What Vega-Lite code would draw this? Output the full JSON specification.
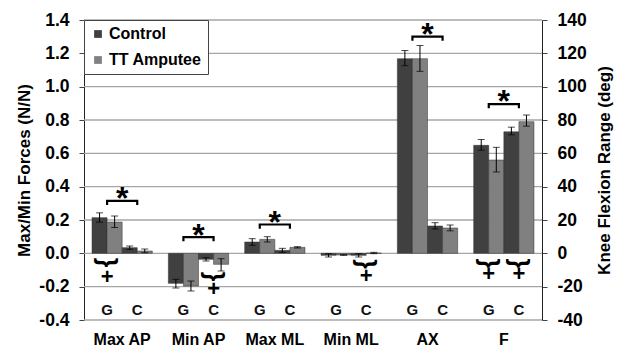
{
  "$schema": "https://vega.github.io/schema/vega-lite/v6.json",
  "width": 458,
  "height": 300,
  "autosize": {"type": "none"},
  "padding": {"left": 84, "top": 20, "right": 76, "bottom": 28},
  "config": {
    "view": {"stroke": null},
    "font": "Liberation Sans",
    "axis": {"labelFont": "Liberation Sans", "titleFont": "Liberation Sans", "labelColor": "#000", "titleColor": "#000"},
    "axisLeft": {"titleFontSize": 17, "titleFontWeight": "bold", "titlePadding": 5, "labelFontSize": 17.5, "labelFontWeight": "bold", "labelPadding": 10, "tickSize": 5, "tickColor": "#444", "domainColor": "#222", "labelOverlap": false},
    "axisRight": {"titleFontSize": 17, "titleFontWeight": "bold", "titlePadding": 10, "titleAngle": 270, "titleBaseline": "top", "labelFontSize": 17.5, "labelFontWeight": "bold", "labelPadding": 10, "tickSize": 5, "tickColor": "#444", "domainColor": "#222", "labelOverlap": false},
    "legend": {"labelFont": "Liberation Sans"},
    "text": {"font": "Liberation Sans"}
  },
  "datasets": {
    "gridlines": [
      {"g": -0.4}, {"g": -0.2}, {"g": 0.0}, {"g": 0.2}, {"g": 0.4},
      {"g": 0.6}, {"g": 0.8}, {"g": 1.0}, {"g": 1.2}, {"g": 1.4}
    ],
    "forces": [
      {"cat": "Max AP", "sub": "G", "series": "Control", "slot": "G Control", "v": 0.214, "lo": 0.187, "hi": 0.243},
      {"cat": "Max AP", "sub": "G", "series": "TT Amputee", "slot": "G TT", "v": 0.188, "lo": 0.155, "hi": 0.224},
      {"cat": "Max AP", "sub": "C", "series": "Control", "slot": "C Control", "v": 0.034, "lo": 0.024, "hi": 0.044},
      {"cat": "Max AP", "sub": "C", "series": "TT Amputee", "slot": "C TT", "v": 0.014, "lo": 0.004, "hi": 0.026},
      {"cat": "Min AP", "sub": "G", "series": "Control", "slot": "G Control", "v": -0.18, "lo": -0.208, "hi": -0.156},
      {"cat": "Min AP", "sub": "G", "series": "TT Amputee", "slot": "G TT", "v": -0.196, "lo": -0.226, "hi": -0.166},
      {"cat": "Min AP", "sub": "C", "series": "Control", "slot": "C Control", "v": -0.036, "lo": -0.046, "hi": -0.026},
      {"cat": "Min AP", "sub": "C", "series": "TT Amputee", "slot": "C TT", "v": -0.066, "lo": -0.106, "hi": -0.032},
      {"cat": "Max ML", "sub": "G", "series": "Control", "slot": "G Control", "v": 0.068, "lo": 0.048, "hi": 0.088},
      {"cat": "Max ML", "sub": "G", "series": "TT Amputee", "slot": "G TT", "v": 0.084, "lo": 0.068, "hi": 0.1},
      {"cat": "Max ML", "sub": "C", "series": "Control", "slot": "C Control", "v": 0.018, "lo": 0.006, "hi": 0.03},
      {"cat": "Max ML", "sub": "C", "series": "TT Amputee", "slot": "C TT", "v": 0.036, "lo": 0.032, "hi": 0.04},
      {"cat": "Min ML", "sub": "G", "series": "Control", "slot": "G Control", "v": -0.012, "lo": -0.022, "hi": -0.002},
      {"cat": "Min ML", "sub": "G", "series": "TT Amputee", "slot": "G TT", "v": -0.01, "lo": -0.012, "hi": -0.008},
      {"cat": "Min ML", "sub": "C", "series": "Control", "slot": "C Control", "v": -0.012, "lo": -0.022, "hi": -0.002},
      {"cat": "Min ML", "sub": "C", "series": "TT Amputee", "slot": "C TT", "v": 0.002, "lo": -0.002, "hi": 0.006},
      {"cat": "AX", "sub": "G", "series": "Control", "slot": "G Control", "v": 1.168, "lo": 1.126, "hi": 1.217},
      {"cat": "AX", "sub": "G", "series": "TT Amputee", "slot": "G TT", "v": 1.168, "lo": 1.092, "hi": 1.247},
      {"cat": "AX", "sub": "C", "series": "Control", "slot": "C Control", "v": 0.164, "lo": 0.146, "hi": 0.184},
      {"cat": "AX", "sub": "C", "series": "TT Amputee", "slot": "C TT", "v": 0.152, "lo": 0.135, "hi": 0.17}
    ],
    "flex": [
      {"cat": "F", "sub": "G", "series": "Control", "slot": "G Control", "v": 64.8, "lo": 61.9, "hi": 68.3},
      {"cat": "F", "sub": "G", "series": "TT Amputee", "slot": "G TT", "v": 56.0, "lo": 48.8, "hi": 63.6},
      {"cat": "F", "sub": "C", "series": "Control", "slot": "C Control", "v": 72.9, "lo": 71.1, "hi": 75.7},
      {"cat": "F", "sub": "C", "series": "TT Amputee", "slot": "C TT", "v": 79.0, "lo": 76.3, "hi": 83.0}
    ],
    "brackets": [
      {"b": 1, "cat": "Max AP", "sub": "G", "k": 1, "y": 0.29},
      {"b": 1, "cat": "Max AP", "sub": "G", "k": 2, "y": 0.315},
      {"b": 1, "cat": "Max AP", "sub": "C", "k": 3, "y": 0.315},
      {"b": 1, "cat": "Max AP", "sub": "C", "k": 4, "y": 0.29},
      {"b": 2, "cat": "Min AP", "sub": "G", "k": 1, "y": 0.072},
      {"b": 2, "cat": "Min AP", "sub": "G", "k": 2, "y": 0.097},
      {"b": 2, "cat": "Min AP", "sub": "C", "k": 3, "y": 0.097},
      {"b": 2, "cat": "Min AP", "sub": "C", "k": 4, "y": 0.072},
      {"b": 3, "cat": "Max ML", "sub": "G", "k": 1, "y": 0.148},
      {"b": 3, "cat": "Max ML", "sub": "G", "k": 2, "y": 0.173},
      {"b": 3, "cat": "Max ML", "sub": "C", "k": 3, "y": 0.173},
      {"b": 3, "cat": "Max ML", "sub": "C", "k": 4, "y": 0.148},
      {"b": 4, "cat": "AX", "sub": "G", "k": 1, "y": 1.275},
      {"b": 4, "cat": "AX", "sub": "G", "k": 2, "y": 1.3},
      {"b": 4, "cat": "AX", "sub": "C", "k": 3, "y": 1.3},
      {"b": 4, "cat": "AX", "sub": "C", "k": 4, "y": 1.275},
      {"b": 5, "cat": "F", "sub": "G", "k": 1, "y": 0.87},
      {"b": 5, "cat": "F", "sub": "G", "k": 2, "y": 0.895},
      {"b": 5, "cat": "F", "sub": "C", "k": 3, "y": 0.895},
      {"b": 5, "cat": "F", "sub": "C", "k": 4, "y": 0.87}
    ],
    "stars": [
      {"cat": "Max AP", "y": 0.37},
      {"cat": "Min AP", "y": 0.145},
      {"cat": "Max ML", "y": 0.226},
      {"cat": "AX", "y": 1.35},
      {"cat": "F", "y": 0.95}
    ],
    "braces": [
      {"cat": "Max AP", "sub": "G", "yb": -0.056, "yp": -0.14},
      {"cat": "Min AP", "sub": "C", "yb": -0.14, "yp": -0.216},
      {"cat": "Min ML", "sub": "C", "yb": -0.065, "yp": -0.134},
      {"cat": "F", "sub": "G", "yb": -0.06, "yp": -0.126},
      {"cat": "F", "sub": "C", "yb": -0.06, "yp": -0.126}
    ],
    "subs": [
      {"cat": "Max AP", "sub": "G"}, {"cat": "Max AP", "sub": "C"},
      {"cat": "Min AP", "sub": "G"}, {"cat": "Min AP", "sub": "C"},
      {"cat": "Max ML", "sub": "G"}, {"cat": "Max ML", "sub": "C"},
      {"cat": "Min ML", "sub": "G"}, {"cat": "Min ML", "sub": "C"},
      {"cat": "AX", "sub": "G"}, {"cat": "AX", "sub": "C"},
      {"cat": "F", "sub": "G"}, {"cat": "F", "sub": "C"}
    ]
  },
  "resolve": {"scale": {"y": "independent", "xOffset": "independent"}},
  "layer": [
    {
      "data": {"name": "gridlines"},
      "mark": {"type": "rule", "stroke": "#a6a6a6", "strokeWidth": 1.3, "opacity": 1},
      "encoding": {
        "x": {"value": 0},
        "x2": {"value": "width"},
        "y": {"field": "g", "type": "quantitative", "scale": {"domain": [-0.4, 1.4], "nice": false, "zero": false}, "axis": null}
      }
    },
    {
      "data": {"name": "forces"},
      "encoding": {
        "x": {"field": "cat", "type": "nominal", "sort": ["Max AP", "Min AP", "Max ML", "Min ML", "AX", "F"],
              "scale": {"type": "band", "domain": ["Max AP", "Min AP", "Max ML", "Min ML", "AX", "F"], "paddingInner": 0.21, "paddingOuter": 0.105},
              "axis": {"title": null, "ticks": false, "domain": false, "labelAngle": 0, "labelPadding": 11, "labelFontSize": 16, "labelFontWeight": "bold"}},
        "xOffset": {"field": "slot", "type": "nominal", "scale": {"type": "band", "domain": ["G Control", "G TT", "C Control", "C TT"], "paddingInner": 0, "paddingOuter": 0}}
      },
      "layer": [
        {
          "mark": {"type": "bar", "stroke": "#333", "strokeWidth": 0.5},
          "encoding": {
            "y": {"field": "v", "type": "quantitative", "stack": null,
                  "scale": {"domain": [-0.4, 1.4], "nice": false, "zero": false},
                  "axis": {"orient": "left", "title": "Max/Min Forces (N/N)", "values": [-0.4, -0.2, 0, 0.2, 0.4, 0.6, 0.8, 1.0, 1.2, 1.4], "labelExpr": "(datum.value < 0 ? '-' : '') + format(abs(datum.value), '.1f')", "grid": false, "labelOverlap": false}},
            "color": {"field": "series", "type": "nominal",
                      "scale": {"domain": ["Control", "TT Amputee"], "range": ["#404040", "#808080"]},
                      "legend": {"title": null, "orient": "top-left", "offset": 0, "labelFontSize": 16, "labelFontWeight": "bold",
                                 "symbolType": "square", "symbolSize": 60, "symbolStrokeWidth": 0, "rowPadding": 10, "padding": 6,
                                 "strokeColor": "#444", "fillColor": "#fff", "labelOffset": 3}}
          }
        },
        {
          "mark": {"type": "rule", "color": "#000", "strokeWidth": 1},
          "encoding": {"y": {"field": "lo", "type": "quantitative",
                  "axis": {"orient": "left", "title": "Max/Min Forces (N/N)", "values": [-0.4, -0.2, 0, 0.2, 0.4, 0.6, 0.8, 1.0, 1.2, 1.4], "labelExpr": "(datum.value < 0 ? '-' : '') + format(abs(datum.value), '.1f')", "grid": false, "labelOverlap": false}},
                  "y2": {"field": "hi"}}
        },
        {
          "mark": {"type": "tick", "color": "#000", "size": 7, "thickness": 1, "orient": "horizontal"},
          "encoding": {"y": {"field": "lo", "type": "quantitative",
                  "axis": {"orient": "left", "title": "Max/Min Forces (N/N)", "values": [-0.4, -0.2, 0, 0.2, 0.4, 0.6, 0.8, 1.0, 1.2, 1.4], "labelExpr": "(datum.value < 0 ? '-' : '') + format(abs(datum.value), '.1f')", "grid": false, "labelOverlap": false}}}
        },
        {
          "mark": {"type": "tick", "color": "#000", "size": 7, "thickness": 1, "orient": "horizontal"},
          "encoding": {"y": {"field": "hi", "type": "quantitative",
                  "axis": {"orient": "left", "title": "Max/Min Forces (N/N)", "values": [-0.4, -0.2, 0, 0.2, 0.4, 0.6, 0.8, 1.0, 1.2, 1.4], "labelExpr": "(datum.value < 0 ? '-' : '') + format(abs(datum.value), '.1f')", "grid": false, "labelOverlap": false}}}
        }
      ]
    },
    {
      "data": {"name": "flex"},
      "encoding": {
        "x": {"field": "cat", "type": "nominal", "sort": ["Max AP", "Min AP", "Max ML", "Min ML", "AX", "F"]},
        "xOffset": {"field": "slot", "type": "nominal", "scale": {"type": "band", "domain": ["G Control", "G TT", "C Control", "C TT"], "paddingInner": 0, "paddingOuter": 0}}
      },
      "layer": [
        {
          "mark": {"type": "bar", "stroke": "#333", "strokeWidth": 0.5},
          "encoding": {
            "y": {"field": "v", "type": "quantitative", "stack": null,
                  "scale": {"domain": [-40, 140], "nice": false, "zero": false},
                  "axis": {"orient": "right", "title": "Knee Flexion Range (deg)", "values": [-40, -20, 0, 20, 40, 60, 80, 100, 120, 140], "labelExpr": "(datum.value < 0 ? '-' : '') + format(abs(datum.value), 'd')", "grid": false, "labelOverlap": false}},
            "color": {"field": "series", "type": "nominal"}
          }
        },
        {
          "mark": {"type": "rule", "color": "#000", "strokeWidth": 1},
          "encoding": {"y": {"field": "lo", "type": "quantitative",
                  "axis": {"orient": "right", "title": "Knee Flexion Range (deg)", "values": [-40, -20, 0, 20, 40, 60, 80, 100, 120, 140], "labelExpr": "(datum.value < 0 ? '-' : '') + format(abs(datum.value), 'd')", "grid": false, "labelOverlap": false}},
                  "y2": {"field": "hi"}}
        },
        {
          "mark": {"type": "tick", "color": "#000", "size": 7, "thickness": 1, "orient": "horizontal"},
          "encoding": {"y": {"field": "lo", "type": "quantitative",
                  "axis": {"orient": "right", "title": "Knee Flexion Range (deg)", "values": [-40, -20, 0, 20, 40, 60, 80, 100, 120, 140], "labelExpr": "(datum.value < 0 ? '-' : '') + format(abs(datum.value), 'd')", "grid": false, "labelOverlap": false}}}
        },
        {
          "mark": {"type": "tick", "color": "#000", "size": 7, "thickness": 1, "orient": "horizontal"},
          "encoding": {"y": {"field": "hi", "type": "quantitative",
                  "axis": {"orient": "right", "title": "Knee Flexion Range (deg)", "values": [-40, -20, 0, 20, 40, 60, 80, 100, 120, 140], "labelExpr": "(datum.value < 0 ? '-' : '') + format(abs(datum.value), 'd')", "grid": false, "labelOverlap": false}}}
        }
      ]
    },
    {
      "layer": [
        {
          "data": {"name": "brackets"},
          "mark": {"type": "line", "color": "#000", "strokeWidth": 2.2, "strokeJoin": "miter"},
          "encoding": {
            "x": {"field": "cat", "type": "nominal", "sort": ["Max AP", "Min AP", "Max ML", "Min ML", "AX", "F"]},
            "xOffset": {"field": "sub", "type": "nominal", "scale": {"type": "band", "domain": ["G", "C"], "paddingInner": 0, "paddingOuter": 0}},
            "y": {"field": "y", "type": "quantitative", "scale": {"domain": [-0.4, 1.4], "nice": false, "zero": false}, "axis": null},
            "detail": {"field": "b", "type": "nominal"},
            "order": {"field": "k", "type": "quantitative"}
          }
        },
        {
          "data": {"name": "stars"},
          "mark": {"type": "text", "text": "*", "fontSize": 32, "fontWeight": "bold", "baseline": "middle", "align": "center", "dy": 7, "color": "#000"},
          "encoding": {
            "x": {"field": "cat", "type": "nominal", "sort": ["Max AP", "Min AP", "Max ML", "Min ML", "AX", "F"]},
            "y": {"field": "y", "type": "quantitative", "axis": null}
          }
        },
        {
          "data": {"name": "braces"},
          "mark": {"type": "text", "text": "}", "fontSize": 25, "fontWeight": "bold", "baseline": "middle", "align": "center", "angle": 90, "color": "#000"},
          "encoding": {
            "x": {"field": "cat", "type": "nominal", "sort": ["Max AP", "Min AP", "Max ML", "Min ML", "AX", "F"]},
            "xOffset": {"field": "sub", "type": "nominal"},
            "y": {"field": "yb", "type": "quantitative", "axis": null}
          }
        },
        {
          "data": {"name": "braces"},
          "mark": {"type": "text", "text": "+", "fontSize": 22, "fontWeight": "bold", "baseline": "middle", "align": "center", "color": "#000"},
          "encoding": {
            "x": {"field": "cat", "type": "nominal", "sort": ["Max AP", "Min AP", "Max ML", "Min ML", "AX", "F"]},
            "xOffset": {"field": "sub", "type": "nominal"},
            "y": {"field": "yp", "type": "quantitative", "axis": null}
          }
        },
        {
          "data": {"name": "subs"},
          "mark": {"type": "text", "fontSize": 15, "fontWeight": "bold", "baseline": "middle", "align": "center", "color": "#111"},
          "encoding": {
            "x": {"field": "cat", "type": "nominal", "sort": ["Max AP", "Min AP", "Max ML", "Min ML", "AX", "F"]},
            "xOffset": {"field": "sub", "type": "nominal"},
            "y": {"datum": -0.34, "axis": null},
            "text": {"field": "sub", "type": "nominal"}
          }
        }
      ]
    }
  ]
}
